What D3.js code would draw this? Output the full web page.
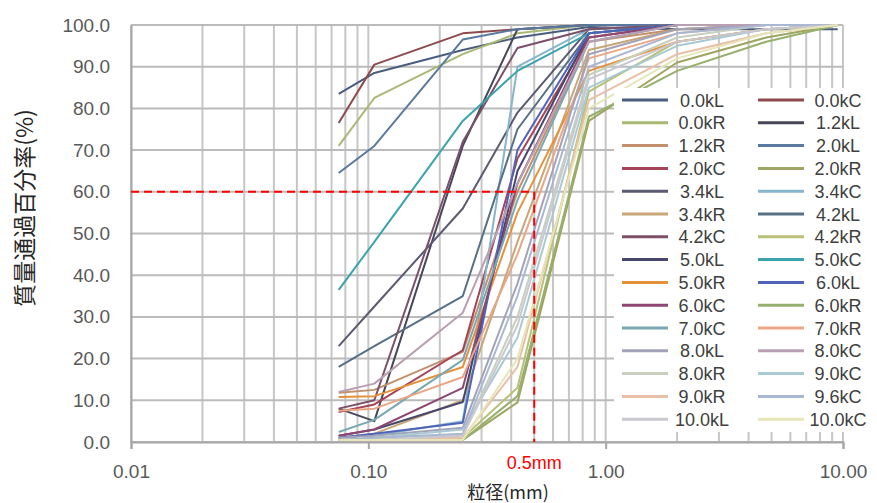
<!DOCTYPE html>
<html>
<head>
<meta charset="utf-8">
<script src="https://cdn.jsdelivr.net/npm/d3@7"></script>
<style>
  html, body { margin: 0; padding: 0; background: #fff; }
  svg { display: block; }
</style>
</head>
<body>
<svg id="chart" width="877" height="503"></svg>
<script>
// ---------- DATA ----------
const sieveSizes = [0.075, 0.106, 0.25, 0.425, 0.85, 2.0, 4.75, 9.5];

const seriesNames = [
  "0.0kL", "0.0kC", "0.0kR", "1.2kL", "1.2kR", "2.0kL", "2.0kC", "2.0kR",
  "3.4kL", "3.4kC", "3.4kR", "4.2kL", "4.2kC", "4.2kR", "5.0kL", "5.0kC",
  "5.0kR", "6.0kL", "6.0kC", "6.0kR", "7.0kC", "7.0kR", "8.0kL", "8.0kC",
  "8.0kR", "9.0kC", "9.0kR", "9.6kC", "10.0kL", "10.0kC"
];

const seriesColors = [
  "#4b5d7e", "#8e4a4c", "#a9b873", "#47475a", "#c2906c", "#5a79a0", "#a54456", "#9fa562",
  "#5b5a73", "#86b6cc", "#c8a676", "#587085", "#7b5068", "#b8c177", "#46476c", "#3ba3ac",
  "#e5913a", "#4f63bb", "#8d4771", "#97b06d", "#7aa8b2", "#eaa685", "#a2a2b8", "#b99fb2",
  "#c7cfbf", "#a9c9d3", "#e9c0a6", "#a9b8d2", "#c9c7d0", "#e6e6b8"
];

const s00kL  = [83.5, 88.5, 94.0, 97.0, 99.5, 99.0, 99.0, 99.0];
const s00kC  = [76.5, 90.5, 98.0, 99.0, 100, 100, 100, 100];
const s00kR  = [71.0, 82.5, 93.0, 98.0, 100, 100, 100, 100];
const s12kL  = [8.0, 5.0, 71.0, 99.0, 100, 100, 100, 100];
const s12kR  = [11.8, 12.5, 21.6, 60.0, 96.0, 99.0, 100, 100];
const s20kL  = [64.5, 71.0, 96.5, 99.0, 100, 100, 100, 100];
const s20kC  = [7.2, 9.0, 22.0, 68.0, 97.0, 100, 100, 100];
const s20kR  = [0.5, 0.5, 0.5, 9.5, 77.0, 91.0, 97.0, 100];
const s34kL  = [23.0, 32.5, 56.0, 79.0, 99.0, 100, 100, 100];
const s34kC  = [1.0, 1.5, 5.0, 90.0, 99.0, 100, 100, 100];
const s34kR  = [1.0, 2.0, 10.0, 48.0, 94.0, 99.0, 100, 100];
const s42kL  = [18.0, 23.0, 35.0, 75.0, 98.0, 100, 100, 100];
const s42kC  = [8.0, 10.0, 72.0, 94.5, 99.0, 100, 100, 100];
const s42kR  = [0.5, 0.5, 1.0, 13.0, 84.0, 96.0, 99.0, 100];
const s50kL  = [1.5, 3.0, 9.6, 65.0, 98.0, 100, 100, 100];
const s50kC  = [36.5, 48.0, 77.0, 89.0, 98.0, 100, 100, 100];
const s50kR  = [10.8, 11.0, 18.0, 55.0, 89.0, 96.0, 99.0, 100];
const s60kL  = [1.0, 2.0, 4.6, 70.0, 98.0, 100, 100, 100];
const s60kC  = [1.5, 3.0, 13.0, 62.0, 97.0, 100, 100, 100];
const s60kR  = [0.5, 0.5, 0.5, 11.0, 78.0, 89.0, 96.0, 100];
const s70kC  = [2.4, 5.3, 19.7, 58.0, 96.0, 100, 100, 100];
const s70kR  = [7.5, 8.0, 15.6, 45.0, 92.0, 98.0, 100, 100];
const s80kL  = [1.0, 1.5, 3.4, 38.0, 93.0, 99.0, 100, 100];
const s80kC  = [12.0, 14.0, 31.0, 62.0, 96.0, 100, 100, 100];
const s80kR  = [0.5, 1.0, 1.7, 30.0, 88.0, 97.0, 100, 100];
const s90kC  = [0.5, 1.0, 3.0, 25.0, 85.0, 95.0, 99.0, 100];
const s90kR  = [0.5, 0.5, 1.0, 18.0, 82.0, 93.0, 98.0, 100];
const s96kC  = [0.5, 1.0, 2.0, 35.0, 90.0, 98.0, 100, 100];
const s100kL = [0.5, 0.5, 1.5, 28.0, 87.0, 96.0, 99.0, 100];
const s100kC = [0.5, 0.5, 0.5, 20.0, 80.0, 92.0, 98.0, 100];

const seriesValues = [
  s00kL, s00kC, s00kR, s12kL, s12kR, s20kL, s20kC, s20kR,
  s34kL, s34kC, s34kR, s42kL, s42kC, s42kR, s50kL, s50kC,
  s50kR, s60kL, s60kC, s60kR, s70kC, s70kR, s80kL, s80kC,
  s80kR, s90kC, s90kR, s96kC, s100kL, s100kC
];

const xTickValues = [0.01, 0.1, 1, 10];
const yTickValues = [0, 10, 20, 30, 40, 50, 60, 70, 80, 90, 100];
const refSize = 0.5;
const refPercent = 60;
const refLabel = "0.5mm";
const yTitle = "質量通過百分率(%)";
const xTitle = "粒径(mm)";

// ---------- DRAW ----------
const svg = d3.select("#chart");
const L = 131, R = 843, T = 25, B = 442;

const x = d3.scaleLog().domain([0.01, 10]).range([L, R]);
const y = d3.scaleLinear().domain([0, 100]).range([B, T]);

// minor log gridlines
const gridX = [];
[0.01, 0.1, 1].forEach(d => { for (let k = 1; k <= 9; k++) gridX.push(d * k); });
gridX.push(10);

const grid = svg.append("g");
grid.selectAll("line.v").data(gridX).join("line")
  .attr("x1", d => x(d)).attr("x2", d => x(d))
  .attr("y1", T).attr("y2", B)
  .attr("stroke", "#c6c6c6").attr("stroke-width", 2);
grid.selectAll("line.h").data(yTickValues).join("line")
  .attr("x1", L).attr("x2", R)
  .attr("y1", d => y(d)).attr("y2", d => y(d))
  .attr("stroke", "#bbbbbb").attr("stroke-width", 2);

// axes
const xAxis = svg.append("g").attr("transform", `translate(0,${B})`)
  .call(d3.axisBottom(x).tickValues(xTickValues).tickFormat(d3.format(".2f")).tickSize(7).tickPadding(16));
xAxis.select(".domain").attr("stroke", "#a6a6a6").attr("stroke-width", 2);
xAxis.selectAll(".tick line").attr("stroke", "#a6a6a6").attr("stroke-width", 2);
xAxis.selectAll("text").attr("font-family", "Liberation Sans, Arial, sans-serif")
  .attr("font-size", 19).attr("fill", "#595959");

const yAxis = svg.append("g").attr("transform", `translate(${L},0)`)
  .call(d3.axisLeft(y).tickValues(yTickValues).tickFormat(d3.format(".1f")).tickSize(0).tickPadding(21));
yAxis.select(".domain").attr("stroke", "#a6a6a6").attr("stroke-width", 2);
yAxis.selectAll("text").attr("font-family", "Liberation Sans, Arial, sans-serif")
  .attr("font-size", 19).attr("fill", "#595959");

// series
svg.append("clipPath").attr("id", "plotclip").append("rect")
  .attr("x", L).attr("y", T - 2).attr("width", R - L).attr("height", B - T + 4);

const line = d3.line().x(d => x(d[0])).y(d => y(d[1]));
const lines = svg.append("g").attr("clip-path", "url(#plotclip)");
seriesValues.forEach((vals, i) => {
  lines.append("path")
    .datum(sieveSizes.map((s, j) => [s, vals[j]]))
    .attr("d", line)
    .attr("fill", "none")
    .attr("stroke", seriesColors[i])
    .attr("stroke-width", 2)
    .attr("stroke-linejoin", "round");
});

// reference dashed lines
svg.append("line")
  .attr("x1", L).attr("x2", x(refSize))
  .attr("y1", y(refPercent)).attr("y2", y(refPercent))
  .attr("stroke", "#ff0000").attr("stroke-width", 2).attr("stroke-dasharray", "8,5");
svg.append("line")
  .attr("x1", x(refSize)).attr("x2", x(refSize))
  .attr("y1", y(refPercent)).attr("y2", B)
  .attr("stroke", "#ff0000").attr("stroke-width", 2).attr("stroke-dasharray", "8,5");
svg.append("text")
  .attr("x", x(refSize)).attr("y", 469)
  .attr("text-anchor", "middle")
  .attr("font-family", "Liberation Sans, Arial, sans-serif")
  .attr("font-size", 18).attr("fill", "#ff0000")
  .text(refLabel);

// legend
const leg = svg.append("g");
leg.append("rect").attr("x", 614).attr("y", 88).attr("width", 263).attr("height", 344).attr("fill", "#fff");
const rowH = 22.8, row0 = 100;
seriesNames.forEach((name, i) => {
  const col = i % 2, row = Math.floor(i / 2);
  const cy = row0 + row * rowH;
  const lx = col === 0 ? 622 : 758;
  leg.append("line").attr("x1", lx).attr("x2", lx + 46)
    .attr("y1", cy).attr("y2", cy)
    .attr("stroke", seriesColors[i]).attr("stroke-width", 3);
  leg.append("text")
    .attr("x", col === 0 ? 702 : 838).attr("y", cy + 6.5)
    .attr("text-anchor", "middle")
    .attr("font-family", "Liberation Sans, Arial, sans-serif")
    .attr("font-size", 18).attr("fill", "#404040")
    .text(name);
});

// titles
svg.append("text")
  .attr("transform", "translate(33,208) rotate(-90)")
  .attr("text-anchor", "middle")
  .attr("font-family", "Noto Sans CJK JP, sans-serif")
  .attr("font-size", 23).attr("fill", "#262626")
  .text(yTitle);
svg.append("text")
  .attr("x", 508).attr("y", 499)
  .attr("text-anchor", "middle")
  .attr("font-family", "Noto Sans CJK JP, sans-serif")
  .attr("font-size", 18).attr("fill", "#262626")
  .text(xTitle);
</script>
</body>
</html>
